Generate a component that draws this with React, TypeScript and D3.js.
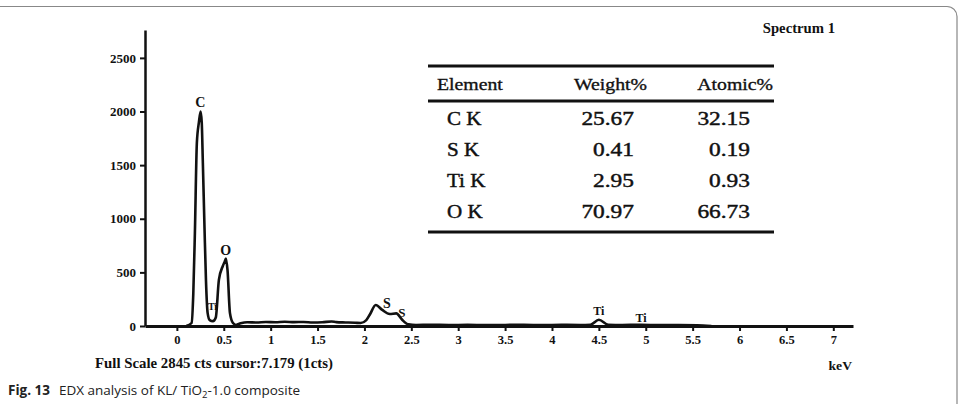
import React, { useEffect, useRef } from 'react';
import * as d3 from 'd3';

// spectrum trace (keV, counts)
const energies = [
  0.1, 0.157, 0.175, 0.192, 0.213, 0.235, 0.253, 0.265, 0.277, 0.295, 0.31, 0.328, 0.35, 0.384,
  0.415, 0.448, 0.49, 0.51, 0.523, 0.54, 0.566, 0.598, 0.63, 0.68, 0.75, 0.85, 0.95, 1.05, 1.15,
  1.25, 1.35, 1.45, 1.55, 1.65, 1.7, 1.8, 1.9, 1.96, 2.02, 2.06, 2.12, 2.19, 2.27, 2.34, 2.4, 2.47,
  2.55, 2.7, 2.9, 3.1, 3.3, 3.5, 3.7, 3.9, 4.1, 4.3, 4.41, 4.5, 4.6, 4.75, 4.95, 5.15, 5.35, 5.55, 5.7
];
const counts = [
  0, 28, 300, 868, 1707, 1900, 2000, 1900, 1520, 900, 430, 120, 55, 45,
  80, 430, 560, 600, 630, 520, 120, 28, 10, 25, 35, 32, 38, 35, 40,
  36, 38, 33, 35, 42, 36, 33, 30, 28, 55, 110, 196, 150, 112, 118, 60, 15,
  10, 12, 9, 11, 8, 10, 12, 8, 11, 10, 12, 58, 12, 10, 11, 8, 9, 6, 0
];

const xTicks = [0, 0.5, 1, 1.5, 2, 2.5, 3, 3.5, 4, 4.5, 5, 5.5, 6, 6.5, 7];
const yTicks = [0, 500, 1000, 1500, 2000, 2500];

// peak labels: element, keV position, count level of the label baseline
const peakLabels = [
  { text: 'C', e: 0.25, c: 2040, size: 14 },
  { text: 'O', e: 0.52, c: 662, size: 14 },
  { text: 'Ti', e: 0.38, c: 150, size: 10 },
  { text: 'S', e: 2.24, c: 170, size: 14 },
  { text: 'S', e: 2.4, c: 85, size: 13 },
  { text: 'Ti', e: 4.5, c: 105, size: 12 },
  { text: 'Ti', e: 4.95, c: 40, size: 12 }
];

const tableHeader = ['Element', 'Weight%', 'Atomic%'];
const tableElements = ['C K', 'S K', 'Ti K', 'O K'];
const weightPct = ['25.67', '0.41', '2.95', '70.97'];
const atomicPct = ['32.15', '0.19', '0.93', '66.73'];

const serif = '"Liberation Serif", "Times New Roman", serif';

export default function App() {
  const ref = useRef<SVGSVGElement>(null);

  useEffect(() => {
    const svg = d3.select(ref.current);
    svg.selectAll('*').remove();

    // figure frame (left side runs off the page)
    svg
      .append('rect')
      .attr('x', -20)
      .attr('y', 6.5)
      .attr('width', 977)
      .attr('height', 440)
      .attr('rx', 10)
      .attr('fill', 'none')
      .attr('stroke', '#888')
      .attr('stroke-width', 1.2);

    const x = d3.scaleLinear().domain([-0.34, 7.21]).range([145, 853]);
    const y = d3.scaleLinear().domain([0, 2760]).range([326, 30]);

    const chart = svg.append('g');

    // spectrum line
    const pts = energies.map((e, i) => ({ e, c: counts[i] }));
    chart
      .append('path')
      .datum(pts)
      .attr('fill', 'none')
      .attr('stroke', '#111')
      .attr('stroke-width', 2.6)
      .attr('stroke-linejoin', 'round')
      .attr(
        'd',
        d3
          .line<{ e: number; c: number }>()
          .curve(d3.curveMonotoneX)
          .x(d => x(d.e))
          .y(d => y(d.c))
      );

    // x axis
    const gx = chart
      .append('g')
      .attr('transform', `translate(0,${y(0)})`)
      .call(
        d3
          .axisBottom(x)
          .tickValues(xTicks)
          .tickSize(5)
          .tickSizeOuter(0)
          .tickPadding(4)
          .tickFormat(d => String(d))
      );
    gx.select('.domain').attr('stroke', '#111').attr('stroke-width', 3);
    gx.selectAll('.tick line').attr('stroke', '#111').attr('stroke-width', 2);
    gx.selectAll('.tick text')
      .attr('fill', '#111')
      .style('font-family', serif)
      .style('font-weight', 'bold')
      .style('font-size', '12.5px');

    // y axis
    const gy = chart
      .append('g')
      .attr('transform', `translate(${x.range()[0]},0)`)
      .call(
        d3
          .axisLeft(y)
          .tickValues(yTicks)
          .tickSize(5)
          .tickSizeOuter(0)
          .tickPadding(4)
          .tickFormat(d => String(d))
      );
    gy.select('.domain').attr('stroke', '#111').attr('stroke-width', 2.5);
    gy.selectAll('.tick line').attr('stroke', '#111').attr('stroke-width', 2);
    gy.selectAll('.tick text')
      .attr('fill', '#111')
      .style('font-family', serif)
      .style('font-weight', 'bold')
      .style('font-size', '13px');

    // peak labels
    chart
      .selectAll('.peak')
      .data(peakLabels)
      .enter()
      .append('text')
      .attr('class', 'peak')
      .attr('x', d => x(d.e))
      .attr('y', d => y(d.c))
      .attr('text-anchor', 'middle')
      .attr('fill', '#111')
      .style('font-family', serif)
      .style('font-weight', 'bold')
      .style('font-size', d => d.size + 'px')
      .text(d => d.text);

    const label = (txt: string, px: number, py: number, size: number, opts: any = {}) =>
      svg
        .append('text')
        .attr('transform', `translate(${px},${py}) scale(${opts.sx || 1},1)`)
        .attr('text-anchor', opts.anchor || 'start')
        .attr('fill', '#111')
        .attr('stroke', opts.thick ? '#111' : 'none')
        .attr('stroke-width', opts.thick || 0)
        .style('font-family', serif)
        .style('font-weight', opts.weight || 'normal')
        .style('font-size', size + 'px')
        .text(txt);

    label('Spectrum 1', 835, 33, 14, { anchor: 'end', weight: 'bold', sx: 1.05 });
    label('keV', 852, 370, 13, { anchor: 'end', weight: 'bold', sx: 1.05 });
    label('Full Scale 2845 cts cursor:7.179 (1cts)', 95, 368, 14, { weight: 'bold', sx: 1.06 });

    // composition table
    const tx0 = 428,
      tx1 = 774;
    const rules = [66, 101, 232];
    svg
      .selectAll('.rule')
      .data(rules)
      .enter()
      .append('line')
      .attr('x1', tx0)
      .attr('x2', tx1)
      .attr('y1', d => d)
      .attr('y2', d => d)
      .attr('stroke', '#111')
      .attr('stroke-width', 3);

    label(tableHeader[0], 437, 90, 17.5, { sx: 1.13, thick: 0.35 });
    label(tableHeader[1], 647, 90, 17.5, { anchor: 'end', sx: 1.13, thick: 0.35 });
    label(tableHeader[2], 773, 90, 17.5, { anchor: 'end', sx: 1.13, thick: 0.35 });

    const rowY = d3.scalePoint<string>().domain(tableElements).range([125, 218]);
    tableElements.forEach((el, i) => {
      const ry = rowY(el) as number;
      label(el, 447, ry, 19.5, { sx: 1.08, thick: 0.45 });
      label(weightPct[i], 634, ry, 19.5, { anchor: 'end', sx: 1.2, thick: 0.45 });
      label(atomicPct[i], 750, ry, 19.5, { anchor: 'end', sx: 1.2, thick: 0.45 });
    });

    // caption
    const cap = svg
      .append('text')
      .attr('x', 8)
      .attr('y', 395)
      .attr('fill', '#222')
      .style('font-family', '"Open Sans", "Noto Sans", sans-serif')
      .style('font-size', '13.5px');
    cap.append('tspan').style('font-weight', 'bold').text('Fig. 13');
    cap.append('tspan').attr('dx', 9).text('EDX analysis of KL/ TiO');
    cap.append('tspan').attr('dy', 3).style('font-size', '9.5px').text('2');
    cap.append('tspan').attr('dy', -3).text('-1.0 composite');
  }, []);

  return (
    <svg
      ref={ref}
      width={959}
      height={404}
      style={{ position: 'absolute', left: 0, top: 0, background: '#fff', display: 'block' }}
    />
  );
}
